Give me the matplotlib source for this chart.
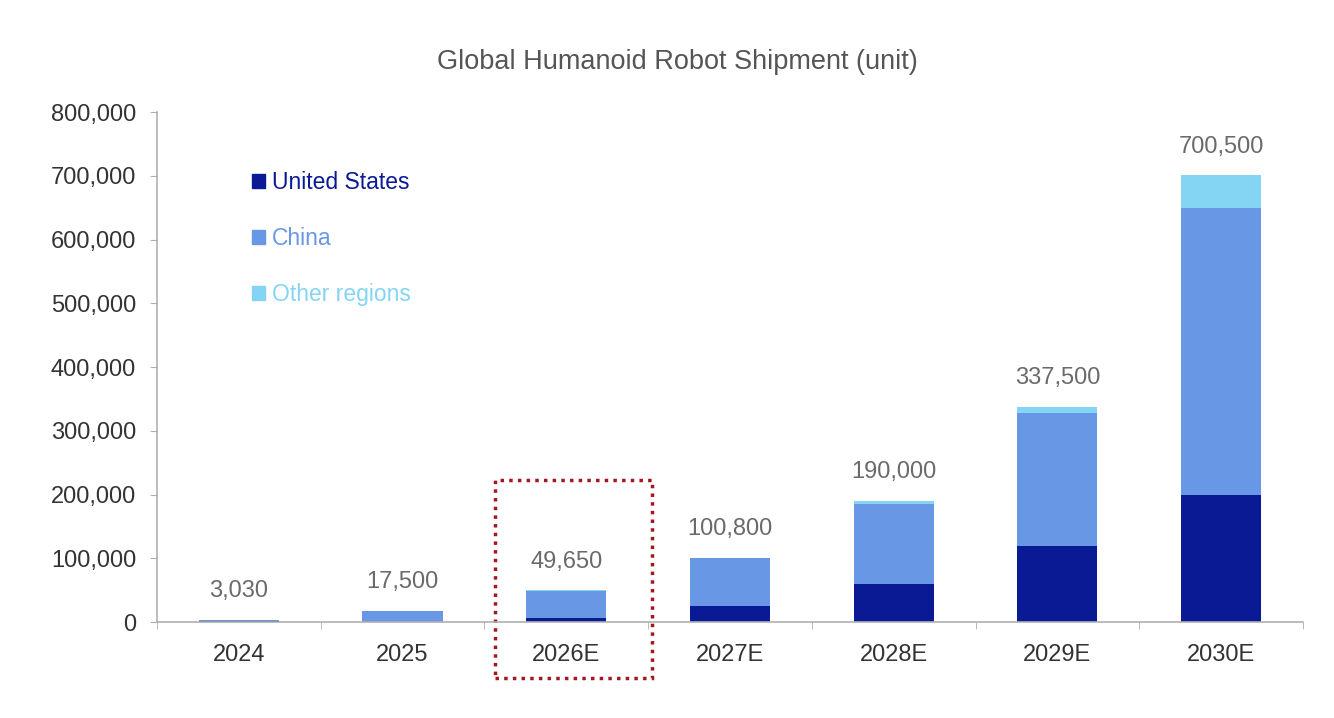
import matplotlib.pyplot as plt
from matplotlib.patches import Patch, Rectangle
import numpy as np

plt.rcParams['font.family'] = ['Liberation Sans', 'DejaVu Sans']

# data
years = ['2024', '2025', '2026E', '2027E', '2028E', '2029E', '2030E']
us = [1000, 500, 7000, 25000, 60000, 120000, 200000]
china = [2000, 16800, 42000, 75000, 125000, 207500, 450000]
other = [30, 200, 650, 800, 5000, 10000, 50500]
totals = [3030, 17500, 49650, 100800, 190000, 337500, 700500]

c_us = '#0a1a94'
c_china = '#6897e6'
c_other = '#84d5f4'

fig = plt.figure(figsize=(13.34, 7.18), dpi=100)
ax = fig.add_axes([0.1177, 0.1337, 0.859, 0.7103])

x = np.arange(len(years))
w = 0.49
us_a = np.array(us)
cn_a = np.array(china)
ot_a = np.array(other)
ax.bar(x, us_a, w, color=c_us)
ax.bar(x, cn_a, w, bottom=us_a, color=c_china)
ax.bar(x, ot_a, w, bottom=us_a + cn_a, color=c_other)

for xi, t in zip(x, totals):
    ax.text(xi, t + 28000, f'{t:,}', ha='center', va='bottom',
            fontsize=17, color='#6a6a6a')

ax.set_xlim(-0.5, len(years) - 0.5)
ax.set_ylim(0, 800000)
ax.set_yticks(np.arange(0, 800001, 100000))
ax.set_yticklabels([f'{v:,}' for v in range(0, 800001, 100000)])
ax.set_xticks(x)
ax.set_xticklabels(years)
ax.set_xticks(np.arange(-0.5, len(years)), minor=True)
ax.tick_params(axis='x', which='major', length=0, labelsize=17, pad=16, colors='#333333')
ax.tick_params(axis='x', which='minor', length=5, color='#b0b0b0', direction='out')
ax.tick_params(axis='y', length=5, labelsize=17, pad=10, colors='#333333')
ax.tick_params(axis='y', color='#b0b0b0')

for s in ['top', 'right']:
    ax.spines[s].set_visible(False)
for s in ['left', 'bottom']:
    ax.spines[s].set_color('#b0b0b0')
    ax.spines[s].set_linewidth(1.2)

handles = [Patch(color=c_us, label='United States'),
           Patch(color=c_china, label='China'),
           Patch(color=c_other, label='Other regions')]
ax.legend(handles=handles, loc='upper left', bbox_to_anchor=(0.065, 0.925),
          frameon=False, fontsize=16.5, handlelength=0.55, handleheight=0.55,
          handletextpad=0.3, labelspacing=1.45,
          labelcolor=[c_us, c_china, c_other])

# dotted highlight box around 2026E
box = Rectangle((1.565, -88000), 0.96, 311000, fill=False,
                edgecolor='#a01820', linestyle=(0, (1, 1.5)), linewidth=2.5,
                clip_on=False)
ax.add_patch(box)

fig.text(0.508, 0.913, 'Global Humanoid Robot Shipment (unit)', ha='center',
         va='center', fontsize=19.5, color='#555555')

fig.savefig('out.png', dpi=100, facecolor='white')
